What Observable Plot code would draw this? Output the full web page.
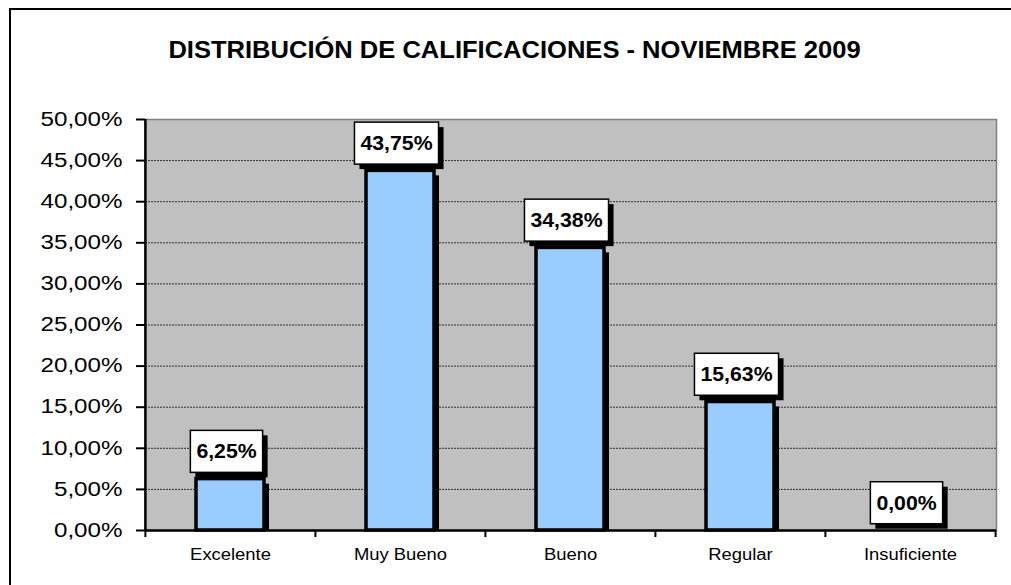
<!DOCTYPE html>
<html><head><meta charset="utf-8">
<script src="https://cdn.jsdelivr.net/npm/d3@7"></script>
<script src="https://cdn.jsdelivr.net/npm/@observablehq/plot@0.6"></script>
<style>
body{margin:0;background:#fff;}
#wrap{position:relative;width:1011px;height:585px;overflow:hidden;background:#fff;}
#border{position:absolute;left:9px;top:8px;width:2000px;height:2000px;border-left:2.5px solid #000;border-top:2.5px solid #000;}
#wrap svg{position:absolute;left:0;top:0;}
</style></head><body><div id="wrap"><div id="border"></div></div>
<script>
const title = "DISTRIBUCIÓN DE CALIFICACIONES - NOVIEMBRE 2009";
const categories = ["Excelente", "Muy Bueno", "Bueno", "Regular", "Insuficiente"];
const values = [6.25, 43.75, 34.38, 15.63, 0.00];
const yTicks = [0, 5, 10, 15, 20, 25, 30, 35, 40, 45, 50];

const data = categories.map((c, i) => ({cat: c, value: values[i]}));
const W = 1011, H = 585, mL = 145, mR = 15, mT = 119, mB = 55;
const step = (W - mL - mR) / categories.length;
const fmt = d => d.toFixed(2).replace(".", ",") + "%";
const tag = cls => (i, s, v, d, c, next) => { const g = next(i, s, v, d, c); g.classList.add(cls); return g; };
const font = "'Liberation Sans', Arial, sans-serif";

const plot = Plot.plot({
  width: W, height: H,
  marginLeft: mL, marginRight: mR, marginTop: mT, marginBottom: mB,
  style: {fontFamily: font, background: "transparent", color: "black"},
  x: {domain: categories, paddingInner: 0.6, paddingOuter: 0.3, label: null},
  y: {domain: [0, 50], label: null},
  marks: [
    Plot.frame({fill: "#C0C0C0", stroke: "#808080", strokeWidth: 1.5}),
    Plot.gridY(yTicks.slice(1, -1), {stroke: "#303030", strokeOpacity: 1, strokeWidth: 1, strokeDasharray: "2,1"}),
    Plot.barY(data, {x: "cat", y: "value", fill: "black", dx: 5, dy: 5, clip: true}),
    Plot.barY(data, {x: "cat", y: "value", fill: "#99CCFF", stroke: "black", strokeWidth: 3.5}),
    Plot.ruleY([0], {stroke: "black", strokeWidth: 2.5}),
    Plot.ruleX([categories[0]], {x: d => d, dx: -step / 2, stroke: "black", strokeWidth: 2.5}),
    Plot.ruleX(categories, {x: d => d, dx: -step / 2, y1: 0, y2: 0, insetBottom: -7, stroke: "black", strokeWidth: 2}),
    Plot.ruleX([categories[categories.length - 1]], {x: d => d, dx: step / 2, y1: 0, y2: 0, insetBottom: -7, stroke: "black", strokeWidth: 2}),
    Plot.axisY(yTicks, {tickFormat: fmt, tickSize: 9, tickPadding: 14, fontSize: 19.5, strokeWidth: 2}),
    Plot.axisX({tickSize: 0, tickPadding: 18, fontSize: 16}),
    Plot.text(data, {x: "cat", y: "value", text: d => fmt(d.value), dx: -4, dy: -27,
      fontSize: 19.5, fontWeight: "bold", fill: "black", render: tag("vlabel")}),
    Plot.text([title], {frameAnchor: "top", text: d => d, dx: 514 - (mL + (W - mL - mR) / 2), dy: -77.5,
      fontSize: 23, fontWeight: "bold", fill: "black", render: tag("title")})
  ]
});
document.getElementById("wrap").appendChild(plot);

function stretch(sel, f) {
  d3.select(plot).selectAll(sel).each(function () {
    const L = this.getComputedTextLength();
    this.setAttribute("textLength", L * f);
    this.setAttribute("lengthAdjust", "spacingAndGlyphs");
  });
}
stretch('g[aria-label="y-axis tick label"] text', 1.24);
stretch('g[aria-label="x-axis tick label"] text', 1.15);
stretch('g.title text', 1.11);
stretch('g.vlabel text', 1.09);

d3.select(plot).selectAll('g.vlabel text').each(function () {
  const b = this.getBBox();
  const tr = this.getAttribute("transform");
  const cy = b.y + b.height / 2;
  const bx = b.x - 6, bw = b.width + 12, bh = 42, by = cy - bh / 2;
  const p = this.parentNode;
  const sh = document.createElementNS("http://www.w3.org/2000/svg", "rect");
  sh.setAttribute("x", bx + 5); sh.setAttribute("y", by + 5);
  sh.setAttribute("width", bw); sh.setAttribute("height", bh);
  sh.setAttribute("fill", "black"); sh.setAttribute("stroke", "none");
  if (tr) sh.setAttribute("transform", tr);
  const bg = document.createElementNS("http://www.w3.org/2000/svg", "rect");
  bg.setAttribute("x", bx); bg.setAttribute("y", by);
  bg.setAttribute("width", bw); bg.setAttribute("height", bh);
  bg.setAttribute("fill", "white"); bg.setAttribute("stroke", "black"); bg.setAttribute("stroke-width", 1.5);
  if (tr) bg.setAttribute("transform", tr);
  p.insertBefore(sh, this);
  p.insertBefore(bg, this);
});
</script></body></html>
